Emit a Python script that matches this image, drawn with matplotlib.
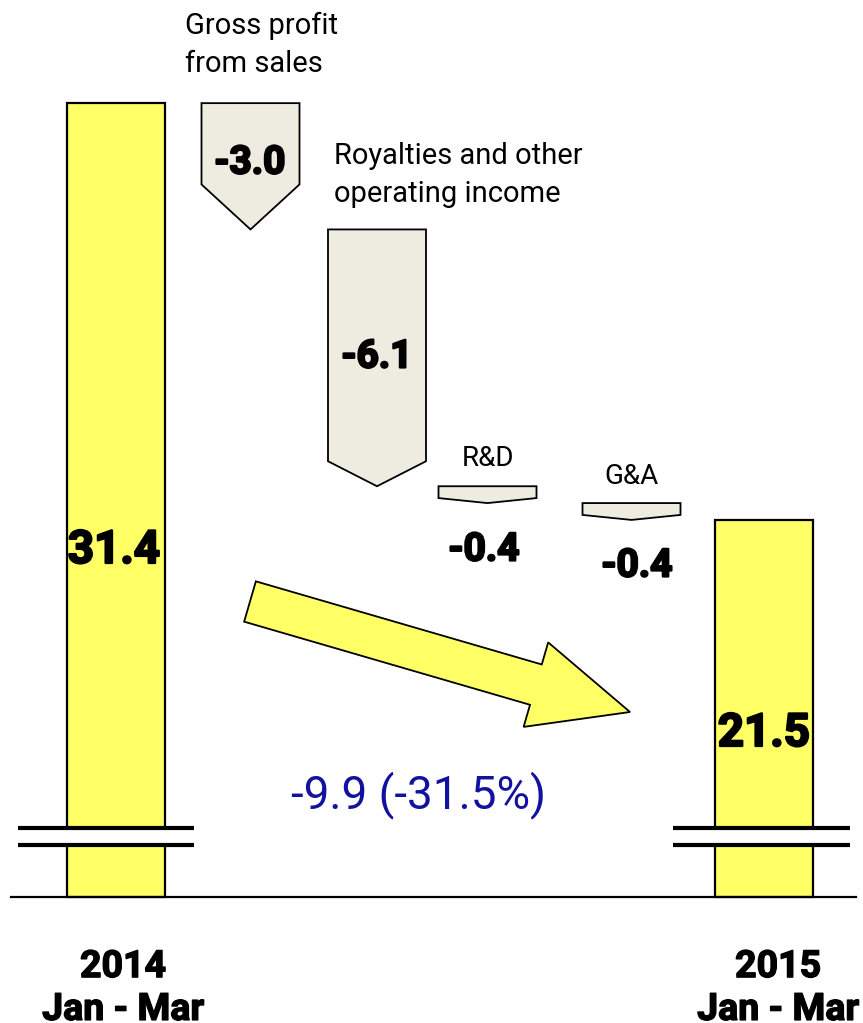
import matplotlib
matplotlib.use("Agg")
import matplotlib.pyplot as plt
import matplotlib.patheffects as pe
from matplotlib.patches import Polygon, Rectangle, FancyArrow

# ---------------- data ----------------
total_labels = ["2014\nJan - Mar", "2015\nJan - Mar"]
step_labels = ["Gross profit\nfrom sales", "Royalties and other\noperating income", "R&D", "G&A"]
start_value = 31.4
deltas = [-3.0, -6.1, -0.4, -0.4]
end_value = 21.5
change_label = "-9.9 (-31.5%)"

# ---------------- layout / style ----------------
W, H, DPI = 863, 1023, 100
ymin, ymax = 9.55, 33.85
axis_base = 12.54
break_lo, break_hi = 13.78, 14.18
xpos = [115.5, 250.5, 377, 487.5, 631.5, 764]
bar_w = 98
tip_px = [45, 25, 5, 5]
YELLOW = "#FFFF66"
BEIGE = "#EEEBE0"
BLUE = "#12129E"
FONT = ["Roboto", "DejaVu Sans"]
heavy = [pe.withStroke(linewidth=1.6, foreground="black")]

fig = plt.figure(figsize=(W / DPI, H / DPI), dpi=DPI)
ax = fig.add_axes([0, 0, 1, 1])
ax.set_xlim(0, W)
ax.set_ylim(ymin, ymax)
ax.axis("off")
ppu = H / (ymax - ymin)


def P(x, y):
    return x / W, 1 - y / H


# total bars
for x, v in [(xpos[0], start_value), (xpos[-1], end_value)]:
    ax.bar(x, v - axis_base, bottom=axis_base, width=bar_w, color=YELLOW,
           edgecolor="black", linewidth=1.6, zorder=2)

# step (downward pentagon) bars
running = start_value
for i, d in enumerate(deltas):
    x = xpos[i + 1]
    top, bot = running, running + d
    tip = tip_px[i] / ppu
    poly = Polygon([(x - bar_w / 2, top), (x + bar_w / 2, top), (x + bar_w / 2, bot + tip),
                    (x, bot), (x - bar_w / 2, bot + tip)], closed=True,
                   facecolor=BEIGE, edgecolor="black", linewidth=1.3, zorder=2)
    ax.add_patch(poly)
    running = bot

# baseline
ax.plot([11, 856], [axis_base, axis_base], color="black", lw=1.6, zorder=3)

# axis break marks
for x0, x1, xc in [(18, 194, xpos[0]), (673, 850, xpos[-1])]:
    ax.add_patch(Rectangle((xc - bar_w / 2 - 2, break_lo), bar_w + 4, break_hi - break_lo,
                           facecolor="white", edgecolor="none", zorder=4))
    for yb in (break_lo, break_hi):
        ax.plot([x0, x1], [yb, yb], color="black", lw=3.0, zorder=5, solid_capstyle="butt")

# big trend arrow (display geometry in pixels, via inches)
arr = FancyArrow(250 / DPI, (H - 601.5) / DPI, 380 / DPI, -110.5 / DPI,
                 width=42 / DPI, head_width=88 / DPI, head_length=98 / DPI,
                 length_includes_head=True, transform=fig.dpi_scale_trans,
                 facecolor=YELLOW, edgecolor="black", linewidth=1.3, zorder=3)
fig.add_artist(arr)

# step labels
ax.text(*P(185, 12), step_labels[0], transform=ax.transAxes, ha="left", va="top",
        fontsize=21, family=FONT, linespacing=1.45)
ax.text(*P(334, 142), step_labels[1], transform=ax.transAxes, ha="left", va="top",
        fontsize=21, family=FONT, linespacing=1.45)
ax.text(*P(488, 458), step_labels[2], transform=ax.transAxes, ha="center", va="center",
        fontsize=20, family=FONT)
ax.text(*P(631, 476), step_labels[3], transform=ax.transAxes, ha="center", va="center",
        fontsize=20, family=FONT)

# value labels
val_pos = [(250, 163), (377, 357), (484, 550), (637, 566)]
for i, d in enumerate(deltas):
    ax.text(*P(*val_pos[i]), f"{d:.1f}", transform=ax.transAxes, ha="center", va="center",
            fontsize=28, fontweight="bold", family=FONT, zorder=6, path_effects=heavy)
ax.text(*P(114, 550), f"{start_value:.1f}", transform=ax.transAxes, ha="center", va="center",
        fontsize=33, fontweight="bold", family=FONT, zorder=6, path_effects=heavy)
ax.text(*P(764, 733), f"{end_value:.1f}", transform=ax.transAxes, ha="center", va="center",
        fontsize=33, fontweight="bold", family=FONT, zorder=6, path_effects=heavy)

# change label
ax.text(*P(418, 795), change_label, transform=ax.transAxes, ha="center", va="center",
        fontsize=33, color=BLUE, family=FONT)

# period labels
for x, lab in [(123, total_labels[0]), (778, total_labels[1])]:
    ax.text(*P(x, 988), lab, transform=ax.transAxes, ha="center", va="center",
            fontsize=27, fontweight="bold", family=FONT, linespacing=1.2,
            multialignment="center", path_effects=[pe.withStroke(linewidth=1.0, foreground="black")])

fig.savefig("out.png", dpi=DPI, facecolor="white")
